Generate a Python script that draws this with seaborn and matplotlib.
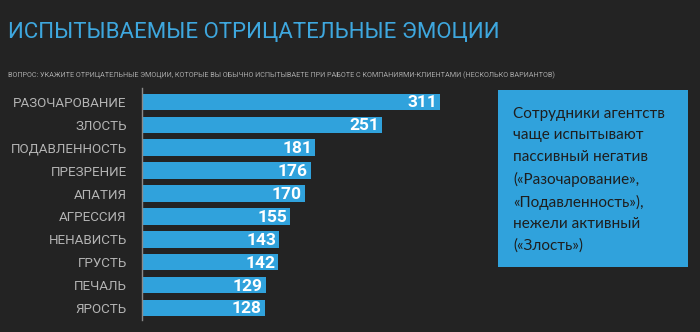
import matplotlib
matplotlib.use("Agg")
import matplotlib.pyplot as plt
import seaborn as sns
import pandas as pd
from matplotlib.patches import Rectangle
from matplotlib import font_manager

categories = ["РАЗОЧАРОВАНИЕ", "ЗЛОСТЬ", "ПОДАВЛЕННОСТЬ", "ПРЕЗРЕНИЕ", "АПАТИЯ",
              "АГРЕССИЯ", "НЕНАВИСТЬ", "ГРУСТЬ", "ПЕЧАЛЬ", "ЯРОСТЬ"]
values = [311, 251, 181, 176, 170, 155, 143, 142, 129, 128]

title = "ИСПЫТЫВАЕМЫЕ ОТРИЦАТЕЛЬНЫЕ ЭМОЦИИ"
subtitle = ("ВОПРОС: УКАЖИТЕ ОТРИЦАТЕЛЬНЫЕ ЭМОЦИИ, КОТОРЫЕ ВЫ ОБЫЧНО ИСПЫТЫВАЕТЕ "
            "ПРИ РАБОТЕ С КОМПАНИЯМИ-КЛИЕНТАМИ (НЕСКОЛЬКО ВАРИАНТОВ)")
note = ("Сотрудники агентств\nчаще испытывают\nпассивный негатив\n"
        "(«Разочарование»,\n«Подавленность»),\nнежели активный\n(«Злость»)")

BG = "#232323"
BLUE = "#30a2dc"
TITLE_BLUE = "#3ea7de"

names = {f.name for f in font_manager.fontManager.ttflist}
narrow = "Liberation Sans Narrow" if "Liberation Sans Narrow" in names else "Roboto"

sns.set_theme(style="dark")
plt.rcParams["font.family"] = [narrow, "DejaVu Sans"]

df = pd.DataFrame({"emotion": categories, "count": values})

W, H = 700, 332
fig = plt.figure(figsize=(W / 100, H / 100), dpi=100, facecolor=BG)

px = 0.958  # pixels per unit
xmax = 340
ax_left, ax_top, ax_bottom = 142, 88.2, 319.5
ax = fig.add_axes([ax_left / W, 1 - ax_bottom / H, xmax * px / W, (ax_bottom - ax_top) / H])
ax.set_facecolor(BG)

sns.barplot(data=df, x="count", y="emotion", orient="h", color=BLUE,
            saturation=1, width=0.72, linewidth=0, edgecolor="none", ax=ax)
ax.set_xlim(0, xmax)
ax.set_ylim(9.5, -0.6)
ax.set_xlabel("")
ax.set_ylabel("")
ax.set_xticks([])
ax.grid(False)
for s in ["top", "right", "bottom"]:
    ax.spines[s].set_visible(False)
ax.spines["left"].set_color("#8a8a8a")
ax.spines["left"].set_linewidth(1.0)
ax.tick_params(axis="y", length=0, pad=11, labelsize=9.6, labelcolor="#b4b4b4")

for i, v in enumerate(values):
    ax.text(v - 3, i + 0.04, str(v), ha="right", va="center", color="white",
            fontsize=12.5, fontweight="bold")

fig.text(8 / W, 1 - 32 / H, title, color=TITLE_BLUE, fontsize=16,
         ha="left", va="center")
fig.text(8 / W, 1 - 75 / H, subtitle, color="#a8a8a8", fontsize=5.2,
         ha="left", va="center")

fig.patches.append(Rectangle((498 / W, 1 - 267 / H), 190 / W, 177 / H,
                             transform=fig.transFigure, facecolor=BLUE,
                             edgecolor="none"))
fig.text(513 / W, 1 - 107 / H, note, color="#1e1e1e", fontsize=11,
         family=["Lato", "DejaVu Sans"], ha="left", va="top", linespacing=1.66)

fig.savefig("out.png", dpi=100, facecolor=BG)
